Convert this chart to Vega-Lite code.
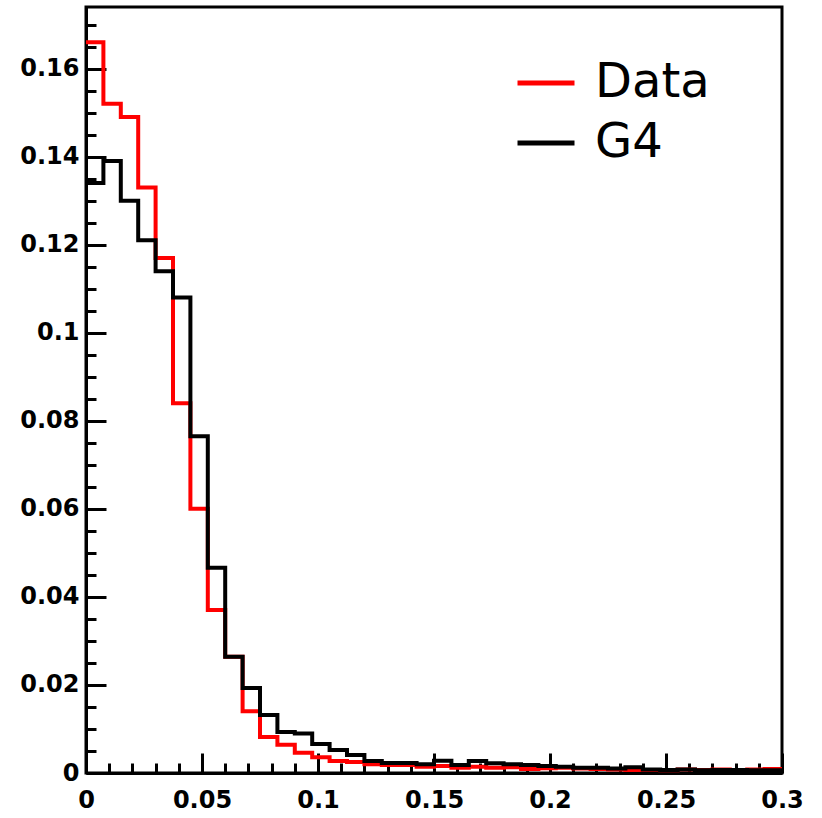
{
  "$schema": "https://vega.github.io/schema/vega-lite/v6.json",
  "width": 696,
  "height": 766,
  "autosize": "none",
  "padding": {"left": 86, "top": 7, "right": 40, "bottom": 45},
  "background": "white",
  "config": {"view": {"stroke": "black", "strokeWidth": 3}, "font": "DejaVu Sans"},
  "datasets": {
    "h": [
      {"x": 0, "y": 0.166, "s": "Data"}, {"x": 0.0075, "y": 0.152, "s": "Data"}, {"x": 0.015, "y": 0.149, "s": "Data"}, {"x": 0.0225, "y": 0.133, "s": "Data"},
      {"x": 0.03, "y": 0.117, "s": "Data"}, {"x": 0.0375, "y": 0.084, "s": "Data"}, {"x": 0.045, "y": 0.06, "s": "Data"}, {"x": 0.0525, "y": 0.037, "s": "Data"},
      {"x": 0.06, "y": 0.0264, "s": "Data"}, {"x": 0.0675, "y": 0.014, "s": "Data"}, {"x": 0.075, "y": 0.0082, "s": "Data"}, {"x": 0.0825, "y": 0.0064, "s": "Data"},
      {"x": 0.09, "y": 0.0046, "s": "Data"}, {"x": 0.0975, "y": 0.0036, "s": "Data"}, {"x": 0.105, "y": 0.0027, "s": "Data"}, {"x": 0.1125, "y": 0.0025, "s": "Data"},
      {"x": 0.12, "y": 0.002, "s": "Data"}, {"x": 0.1275, "y": 0.0018, "s": "Data"}, {"x": 0.135, "y": 0.0018, "s": "Data"}, {"x": 0.1425, "y": 0.0014, "s": "Data"},
      {"x": 0.15, "y": 0.0016, "s": "Data"}, {"x": 0.1575, "y": 0.0012, "s": "Data"}, {"x": 0.165, "y": 0.0014, "s": "Data"}, {"x": 0.1725, "y": 0.0012, "s": "Data"},
      {"x": 0.18, "y": 0.0013, "s": "Data"}, {"x": 0.1875, "y": 0.0009, "s": "Data"}, {"x": 0.195, "y": 0.0011, "s": "Data"}, {"x": 0.2025, "y": 0.0012, "s": "Data"},
      {"x": 0.21, "y": 0.001, "s": "Data"}, {"x": 0.2175, "y": 0.0009, "s": "Data"}, {"x": 0.225, "y": 0.0008, "s": "Data"}, {"x": 0.2325, "y": 0.0007, "s": "Data"},
      {"x": 0.24, "y": 0.0007, "s": "Data"}, {"x": 0.2475, "y": 0.0006, "s": "Data"}, {"x": 0.255, "y": 0.0008, "s": "Data"}, {"x": 0.2625, "y": 0.0007, "s": "Data"},
      {"x": 0.27, "y": 0.0008, "s": "Data"}, {"x": 0.2775, "y": 0.0007, "s": "Data"}, {"x": 0.285, "y": 0.0008, "s": "Data"}, {"x": 0.2925, "y": 0.0009, "s": "Data"},
      {"x": 0.3, "y": 0.0009, "s": "Data"},
      {"x": 0, "y": 0.134, "s": "G4"}, {"x": 0.0075, "y": 0.139, "s": "G4"}, {"x": 0.015, "y": 0.13, "s": "G4"}, {"x": 0.0225, "y": 0.121, "s": "G4"},
      {"x": 0.03, "y": 0.114, "s": "G4"}, {"x": 0.0375, "y": 0.108, "s": "G4"}, {"x": 0.045, "y": 0.0765, "s": "G4"}, {"x": 0.0525, "y": 0.0466, "s": "G4"},
      {"x": 0.06, "y": 0.0264, "s": "G4"}, {"x": 0.0675, "y": 0.0193, "s": "G4"}, {"x": 0.075, "y": 0.0132, "s": "G4"}, {"x": 0.0825, "y": 0.0093, "s": "G4"},
      {"x": 0.09, "y": 0.009, "s": "G4"}, {"x": 0.0975, "y": 0.0066, "s": "G4"}, {"x": 0.105, "y": 0.0052, "s": "G4"}, {"x": 0.1125, "y": 0.0041, "s": "G4"},
      {"x": 0.12, "y": 0.0027, "s": "G4"}, {"x": 0.1275, "y": 0.0023, "s": "G4"}, {"x": 0.135, "y": 0.0023, "s": "G4"}, {"x": 0.1425, "y": 0.002, "s": "G4"},
      {"x": 0.15, "y": 0.0028, "s": "G4"}, {"x": 0.1575, "y": 0.0018, "s": "G4"}, {"x": 0.165, "y": 0.0027, "s": "G4"}, {"x": 0.1725, "y": 0.0022, "s": "G4"},
      {"x": 0.18, "y": 0.002, "s": "G4"}, {"x": 0.1875, "y": 0.0018, "s": "G4"}, {"x": 0.195, "y": 0.0016, "s": "G4"}, {"x": 0.2025, "y": 0.0014, "s": "G4"},
      {"x": 0.21, "y": 0.0012, "s": "G4"}, {"x": 0.2175, "y": 0.0012, "s": "G4"}, {"x": 0.225, "y": 0.001, "s": "G4"}, {"x": 0.2325, "y": 0.0013, "s": "G4"},
      {"x": 0.24, "y": 0.0008, "s": "G4"}, {"x": 0.2475, "y": 0.0007, "s": "G4"}, {"x": 0.255, "y": 0.0008, "s": "G4"}, {"x": 0.2625, "y": 0.0006, "s": "G4"},
      {"x": 0.27, "y": 0.0007, "s": "G4"}, {"x": 0.2775, "y": 0.0007, "s": "G4"}, {"x": 0.285, "y": 0.0006, "s": "G4"}, {"x": 0.2925, "y": 0.0006, "s": "G4"},
      {"x": 0.3, "y": 0.0006, "s": "G4"}
    ]
  },
  "data": {"name": "h"},
  "encoding": {
    "x": {
      "field": "x", "type": "quantitative",
      "scale": {"domain": [0, 0.3], "nice": false, "zero": false},
      "axis": {
        "title": null, "grid": false,
        "values": [0, 0.01, 0.02, 0.03, 0.04, 0.05, 0.06, 0.07, 0.08, 0.09, 0.1, 0.11, 0.12, 0.13, 0.14, 0.15, 0.16, 0.17, 0.18, 0.19, 0.2, 0.21, 0.22, 0.23, 0.24, 0.25, 0.26, 0.27, 0.28, 0.29, 0.3],
        "domainColor": "black", "domainWidth": 3, "tickColor": "black", "tickWidth": 3,
        "tickSize": {"condition": {"test": "abs(round(datum.value*100))%5==0", "value": -20}, "value": -10},
        "labelExpr": "abs(round(datum.value*100))%5==0 ? format(datum.value,'~g') : ''",
        "labelFont": "DejaVu Sans", "labelFontSize": 24, "labelFontWeight": "bold", "labelColor": "black",
        "labelPadding": 35, "labelFlush": false, "labelOverlap": false, "labelBound": false
      }
    },
    "y": {
      "field": "y", "type": "quantitative",
      "scale": {"domain": [0, 0.174], "nice": false, "zero": false},
      "axis": {
        "title": null, "grid": false,
        "values": [0, 0.005, 0.01, 0.015, 0.02, 0.025, 0.03, 0.035, 0.04, 0.045, 0.05, 0.055, 0.06, 0.065, 0.07, 0.075, 0.08, 0.085, 0.09, 0.095, 0.1, 0.105, 0.11, 0.115, 0.12, 0.125, 0.13, 0.135, 0.14, 0.145, 0.15, 0.155, 0.16, 0.165, 0.17],
        "domainColor": "black", "domainWidth": 3, "tickColor": "black", "tickWidth": 3,
        "tickSize": {"condition": {"test": "abs(round(datum.value*1000))%20==0", "value": -20}, "value": -10},
        "labelExpr": "abs(round(datum.value*1000))%20==0 ? format(datum.value,'~g') : ''",
        "labelFont": "DejaVu Sans", "labelFontSize": 24, "labelFontWeight": "bold", "labelColor": "black",
        "labelPadding": 27, "labelFlush": false, "labelOverlap": false, "labelBound": false
      }
    },
    "color": {
      "field": "s", "type": "nominal",
      "scale": {"domain": ["Data", "G4"], "range": ["#ff0000", "#000000"]},
      "legend": {
        "title": null, "orient": "none", "legendX": 429, "legendY": 45,
        "padding": 0, "symbolType": "stroke", "symbolSize": 3249, "symbolStrokeWidth": 5,
        "labelFont": "DejaVu Sans", "labelFontSize": 48, "labelColor": "black", "labelOffset": 18,
        "rowPadding": 5, "labelLimit": 300
      }
    }
  },
  "layer": [
    {"transform": [{"filter": "datum.s=='Data'"}], "mark": {"type": "line", "interpolate": "step-after", "strokeWidth": 4}},
    {"transform": [{"filter": "datum.s=='G4'"}], "mark": {"type": "line", "interpolate": "step-after", "strokeWidth": 4}}
  ]
}
